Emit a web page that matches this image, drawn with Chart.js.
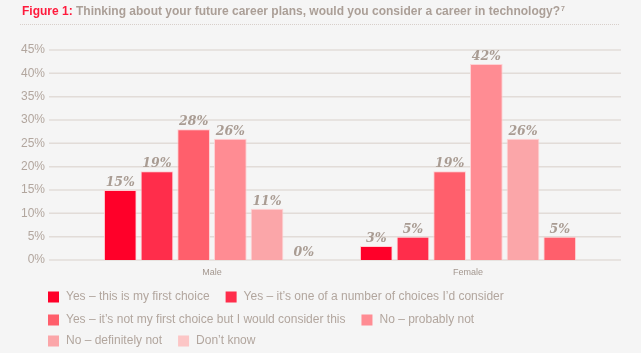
<!DOCTYPE html>
<html>
<head>
<meta charset="utf-8">
<script src="https://cdn.jsdelivr.net/npm/chart.js@4/dist/chart.umd.min.js"></script>
<style>
  html, body { margin: 0; padding: 0; background: #f5f5f5; }
</style>
</head>
<body>
<canvas id="chart" width="641" height="353"></canvas>
<script>
// chart data
const categories = ['Male', 'Female'];
const seriesNames = [
  'Yes \u2013 this is my first choice',
  'Yes \u2013 it\u2019s one of a number of choices I\u2019d consider',
  'Yes \u2013 it\u2019s not my first choice but I would consider this',
  'No \u2013 probably not',
  'No \u2013 definitely not',
  'Don\u2019t know'
];
const firstChoice = [15, 3];
const oneOfSeveral = [19, 5];
const notFirstChoice = [28, 19];
const probablyNot = [26, 42];
const definitelyNot = [11, 26];
const dontKnow = [0, 5];
const yTicks = [0, 5, 10, 15, 20, 25, 30, 35, 40, 45];

const seriesValues = [firstChoice, oneOfSeveral, notFirstChoice, probablyNot, definitelyNot, dontKnow];
const seriesColors = ['#ff0029', '#ff2d4b', '#ff5f6c', '#ff8c93', '#fba6a9', '#fcc6c6'];
// the "Don't know" bar for Female is drawn in a stronger pink in the original
const barColors = [
  '#ff0029', '#ff2d4b', '#ff5f6c', '#ff8c93', '#fba6a9', ['#fcc6c6', '#ff5f6c']
];

const sans = "'Liberation Sans', Arial, sans-serif";
const greyText = '#b2a69e';

const background = {
  id: 'background',
  beforeDraw(chart) {
    const ctx = chart.ctx;
    ctx.save();
    ctx.fillStyle = '#f5f5f5';
    ctx.fillRect(0, 0, chart.width, chart.height);
    ctx.restore();
  }
};

const gridLines = {
  id: 'gridLines',
  beforeDatasetsDraw(chart) {
    const ctx = chart.ctx;
    const y = chart.scales.y;
    ctx.save();
    ctx.strokeStyle = '#e2dcd8';
    ctx.lineWidth = 1.5;
    yTicks.forEach(v => {
      const py = y.getPixelForValue(v);
      ctx.beginPath();
      ctx.moveTo(49, py);
      ctx.lineTo(621, py);
      ctx.stroke();
    });
    ctx.restore();
  }
};

const valueLabels = {
  id: 'valueLabels',
  afterDatasetsDraw(chart) {
    const ctx = chart.ctx;
    ctx.save();
    ctx.font = "italic bold 12.5px 'DejaVu Serif', serif";
    ctx.fillStyle = '#a99c93';
    ctx.textAlign = 'center';
    ctx.textBaseline = 'bottom';
    chart.data.datasets.forEach((ds, i) => {
      chart.getDatasetMeta(i).data.forEach((bar, j) => {
        ctx.fillText(ds.data[j] + '%', bar.x, bar.y - 1);
      });
    });
    ctx.restore();
  }
};

const titleAndLegend = {
  id: 'titleAndLegend',
  afterDraw(chart) {
    const ctx = chart.ctx;
    ctx.save();

    // title
    ctx.textBaseline = 'middle';
    ctx.textAlign = 'left';
    ctx.font = 'bold 12px ' + sans;
    ctx.fillStyle = '#ff1a3c';
    const lead = 'Figure 1: ';
    ctx.fillText(lead, 22, 12);
    let x = 22 + ctx.measureText(lead).width;
    ctx.fillStyle = '#ab9f97';
    const rest = 'Thinking about your future career plans, would you consider a career in technology?';
    ctx.fillText(rest, x, 12);
    x += ctx.measureText(rest).width;
    ctx.font = 'bold 7px ' + sans;
    ctx.fillText('7', x + 1, 9);

    // dotted rule under the title
    ctx.strokeStyle = '#d8cfca';
    ctx.lineWidth = 1;
    ctx.setLineDash([1, 1]);
    ctx.beginPath();
    ctx.moveTo(20, 24.5);
    ctx.lineTo(620, 24.5);
    ctx.stroke();
    ctx.setLineDash([]);

    // legend
    const rows = [[0, 1], [2, 3], [4, 5]];
    const rowY = [297, 320, 341];
    ctx.font = '12px ' + sans;
    rows.forEach((row, r) => {
      let lx = 48;
      row.forEach(i => {
        ctx.fillStyle = seriesColors[i];
        ctx.fillRect(lx, rowY[r] - 5.5, 11, 11);
        ctx.fillStyle = greyText;
        ctx.fillText(seriesNames[i], lx + 18, rowY[r]);
        lx += 18 + ctx.measureText(seriesNames[i]).width + 16;
      });
    });
    ctx.restore();
  }
};

new Chart(document.getElementById('chart'), {
  type: 'bar',
  data: {
    labels: categories,
    datasets: seriesValues.map((vals, i) => ({
      label: seriesNames[i],
      data: vals,
      backgroundColor: barColors[i],
      borderColor: 'rgba(255, 205, 208, 0.9)',
      borderWidth: 1,
      categoryPercentage: 0.86,
      barPercentage: 0.89
    }))
  },
  options: {
    responsive: false,
    animation: false,
    devicePixelRatio: 1,
    layout: { padding: { top: 50, right: 45, left: 0, bottom: 0 } },
    plugins: {
      legend: { display: false },
      tooltip: { enabled: false }
    },
    scales: {
      x: {
        grid: { display: false, drawTicks: false },
        border: { display: false },
        ticks: { color: '#a3978f', font: { size: 9, family: sans }, padding: 7 },
        afterFit: s => { s.height = 93; }
      },
      y: {
        min: 0,
        max: 45,
        grid: { display: false, drawTicks: false },
        border: { display: false },
        afterBuildTicks: s => { s.ticks = yTicks.map(v => ({ value: v })); },
        ticks: {
          color: greyText,
          font: { size: 12, family: sans },
          padding: 39,
          callback: v => v + '%'
        },
        afterFit: s => { s.width = 84; }
      }
    }
  },
  plugins: [background, gridLines, valueLabels, titleAndLegend]
});
</script>
</body>
</html>
